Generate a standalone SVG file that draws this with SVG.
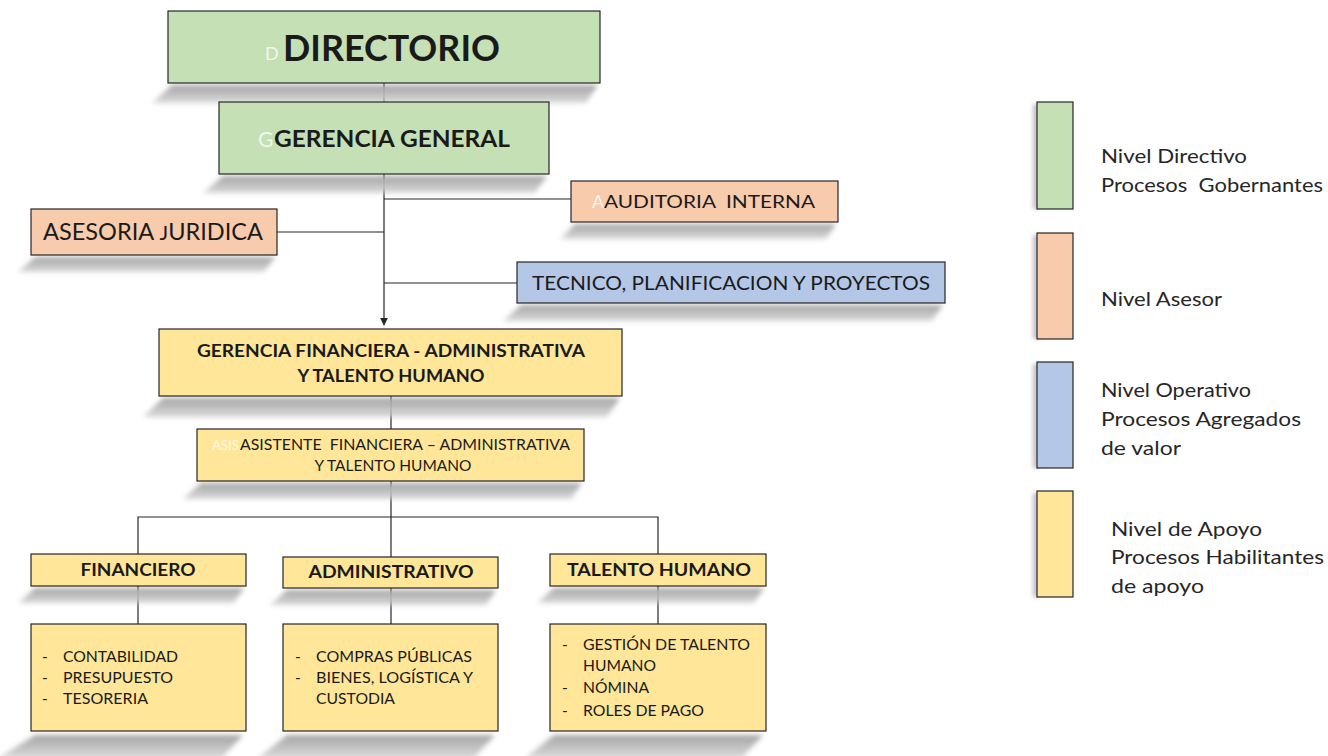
<svg xmlns="http://www.w3.org/2000/svg" width="1328" height="756" viewBox="0 0 1328 756">
<defs>
<filter id="blur" x="-10%" y="-60%" width="120%" height="220%"><feGaussianBlur stdDeviation="2.5"/></filter>
<filter id="blur2" x="-100%" y="-10%" width="300%" height="120%"><feGaussianBlur stdDeviation="2"/></filter>
<linearGradient id="shg" x1="0" y1="0" x2="0" y2="1"><stop offset="0" stop-color="#a3a3a3"/><stop offset="1" stop-color="#cfcfcf" stop-opacity="0.8"/></linearGradient>
<marker id="arr" viewBox="0 0 10 10" refX="9" refY="5" markerWidth="8" markerHeight="8" orient="auto" markerUnits="userSpaceOnUse"><path d="M0,0 L10,5 L0,10 z" fill="#262626"/></marker>
</defs>
<style>
.box{stroke:#262626;stroke-width:1.2}
.g{fill:#c5e0b4}.o{fill:#f8cbad}.b{fill:#b4c7e7}.y{fill:#ffe699}
.sh{fill:url(#shg);filter:url(#blur)}
text{font-family:Lato,"Open Sans","Liberation Sans",sans-serif;fill:#1a1a1a}
.bd{font-weight:bold}
.w{fill:#ffffff;fill-opacity:0.75}
.c{text-anchor:middle}
.ln{stroke:#262626;stroke-width:1.2;fill:none}
.lg{font-size:19px;fill:#262626}
.ls{fill:#bfbfbf;filter:url(#blur2)}
</style>
<rect width="1328" height="756" fill="#ffffff"/>

<g id="connectors">
<path class="ln" d="M384,83 V102"/>
<path class="ln" d="M384,174 V325" marker-end="url(#arr)"/>
<path class="ln" d="M384,199 H571"/>
<path class="ln" d="M277,232 H384"/>
<path class="ln" d="M384,283 H517"/>
<path class="ln" d="M391,396 V429"/>
<path class="ln" d="M391,481 V557"/>
<path class="ln" d="M138,554 V517 H658 V554"/>
<path class="ln" d="M138,586 V624"/>
<path class="ln" d="M391,588 V624"/>
<path class="ln" d="M658,586 V624"/>
</g>

<g id="directorio">
<polygon class="sh" points="172,85 598,85 586,103 152,103"/>
<rect class="box g" x="168" y="11" width="432" height="72"/>
<text x="265" y="60" class="w" font-size="18">D</text>
<text x="283" y="61" class="bd" font-size="37" textLength="217" lengthAdjust="spacingAndGlyphs">DIRECTORIO</text>
</g>

<g id="gerencia-general">
<polygon class="sh" points="223,176 547,176 535,193 203,193"/>
<rect class="box g" x="219" y="102" width="330" height="72"/>
<text x="258" y="147" class="w" font-size="21">G</text>
<text x="274" y="147" class="bd" font-size="22" textLength="236" lengthAdjust="spacingAndGlyphs">GERENCIA GENERAL</text>
</g>

<g id="auditoria-interna">
<polygon class="sh" points="575,224 836,224 826,239 560,239"/>
<rect class="box o" x="571" y="181" width="267" height="41"/>
<text x="592" y="208" class="w" font-size="18">A</text>
<text x="604" y="208" font-size="18" textLength="211" lengthAdjust="spacingAndGlyphs" xml:space="preserve">AUDITORIA  INTERNA</text>
</g>

<g id="asesoria-juridica">
<polygon class="sh" points="35,257 275,257 264,272 18,272"/>
<rect class="box o" x="31" y="209" width="246" height="46"/>
<text x="43" y="240" font-size="23" textLength="220" lengthAdjust="spacingAndGlyphs">ASESORIA <tspan font-size="20">J</tspan>URIDICA</text>
</g>

<g id="tecnico">
<polygon class="sh" points="521,305 943,305 932,321 503,321"/>
<rect class="box b" x="517" y="262" width="428" height="41"/>
<text x="532" y="290" font-size="19" textLength="398" lengthAdjust="spacingAndGlyphs">TECNICO, PLANIFICACION Y PROYECTOS</text>
</g>

<g id="gerencia-financiera">
<polygon class="sh" points="163,398 620,398 607,417 143,417"/>
<rect class="box y" x="159" y="329" width="463" height="67"/>
<text x="391" y="357" class="bd c" font-size="16.5" textLength="388" lengthAdjust="spacingAndGlyphs">GERENCIA FINANCIERA - ADMINISTRATIVA</text>
<text x="391" y="382" class="bd c" font-size="16.5" textLength="187" lengthAdjust="spacingAndGlyphs">Y TALENTO HUMANO</text>
</g>

<g id="asistente">
<polygon class="sh" points="201,483 582,483 571,499 183,499"/>
<rect class="box y" x="197" y="429" width="387" height="52"/>
<text x="212" y="450" class="w" font-size="14" textLength="27" lengthAdjust="spacingAndGlyphs">ASIS</text>
<text x="240" y="450" font-size="14.5" textLength="330" lengthAdjust="spacingAndGlyphs" xml:space="preserve">ASISTENTE  FINANCIERA – ADMINISTRATIVA</text>
<text x="393" y="471" class="c" font-size="14.5" textLength="157" lengthAdjust="spacingAndGlyphs">Y TALENTO HUMANO</text>
</g>

<g id="financiero">
<polygon class="sh" points="35,588 244,588 234,603 18,603"/>
<rect class="box y" x="31" y="554" width="215" height="32"/>
<text x="138" y="576" class="bd c" font-size="16.5" textLength="115" lengthAdjust="spacingAndGlyphs">FINANCIERO</text>
</g>

<g id="administrativo">
<polygon class="sh" points="287,590 496,590 486,605 270,605"/>
<rect class="box y" x="283" y="557" width="215" height="31"/>
<text x="391" y="578" class="bd c" font-size="16.5" textLength="165" lengthAdjust="spacingAndGlyphs">ADMINISTRATIVO</text>
</g>

<g id="talento-humano">
<polygon class="sh" points="554,588 764,588 754,603 537,603"/>
<rect class="box y" x="550" y="554" width="216" height="32"/>
<text x="659" y="576" class="bd c" font-size="16.5" textLength="184" lengthAdjust="spacingAndGlyphs">TALENTO HUMANO</text>
</g>

<g id="financiero-items">
<polygon class="sh" points="35,735 243,735 222,758 -2,758"/>
<rect class="box y" x="31" y="624" width="215" height="107"/>
<g font-size="15.5">
<text x="42" y="662">-</text><text x="63" y="662" textLength="115" lengthAdjust="spacingAndGlyphs">CONTABILIDAD</text>
<text x="42" y="683">-</text><text x="63" y="683" textLength="110" lengthAdjust="spacingAndGlyphs">PRESUPUESTO</text>
<text x="42" y="704">-</text><text x="63" y="704" textLength="85" lengthAdjust="spacingAndGlyphs">TESORERIA</text>
</g>
</g>

<g id="administrativo-items">
<polygon class="sh" points="287,735 495,735 474,758 258,758"/>
<rect class="box y" x="283" y="624" width="215" height="107"/>
<g font-size="15.5">
<text x="295" y="662">-</text><text x="316" y="662" textLength="156" lengthAdjust="spacingAndGlyphs">COMPRAS PÚBLICAS</text>
<text x="295" y="683">-</text><text x="316" y="683" textLength="157" lengthAdjust="spacingAndGlyphs">BIENES, LOGÍSTICA Y</text>
<text x="316" y="704" textLength="79" lengthAdjust="spacingAndGlyphs">CUSTODIA</text>
</g>
</g>

<g id="talento-items">
<polygon class="sh" points="554,735 763,735 742,758 525,758"/>
<rect class="box y" x="550" y="624" width="216" height="107"/>
<g font-size="15.5">
<text x="562" y="650">-</text><text x="583" y="650" textLength="167" lengthAdjust="spacingAndGlyphs">GESTIÓN DE TALENTO</text>
<text x="583" y="671" textLength="73" lengthAdjust="spacingAndGlyphs">HUMANO</text>
<text x="562" y="693">-</text><text x="583" y="693" textLength="66" lengthAdjust="spacingAndGlyphs">NÓMINA</text>
<text x="562" y="716">-</text><text x="583" y="716" textLength="121" lengthAdjust="spacingAndGlyphs">ROLES DE PAGO</text>
</g>
</g>

<g id="legend-directivo">
<rect class="ls" x="1033" y="104" width="6" height="105"/>
<rect class="box g" x="1037" y="102" width="36" height="107"/>
<text x="1101" y="163" class="lg" textLength="146" lengthAdjust="spacingAndGlyphs">Nivel Directivo</text>
<text x="1101" y="192" class="lg" textLength="222" lengthAdjust="spacingAndGlyphs" xml:space="preserve">Procesos  Gobernantes</text>
</g>
<g id="legend-asesor">
<rect class="ls" x="1033" y="235" width="6" height="104"/>
<rect class="box o" x="1037" y="233" width="36" height="106"/>
<text x="1101" y="306" class="lg" textLength="121" lengthAdjust="spacingAndGlyphs">Nivel Asesor</text>
</g>
<g id="legend-operativo">
<rect class="ls" x="1033" y="364" width="6" height="104"/>
<rect class="box b" x="1037" y="362" width="36" height="106"/>
<text x="1101" y="397" class="lg" textLength="150" lengthAdjust="spacingAndGlyphs">Nivel Operativo</text>
<text x="1101" y="426" class="lg" textLength="200" lengthAdjust="spacingAndGlyphs">Procesos Agregados</text>
<text x="1101" y="455" class="lg" textLength="80" lengthAdjust="spacingAndGlyphs">de valor</text>
</g>
<g id="legend-apoyo">
<rect class="ls" x="1033" y="493" width="6" height="104"/>
<rect class="box y" x="1037" y="491" width="36" height="106"/>
<text x="1111" y="536" class="lg" textLength="151" lengthAdjust="spacingAndGlyphs">Nivel de Apoyo</text>
<text x="1111" y="564" class="lg" textLength="213" lengthAdjust="spacingAndGlyphs">Procesos Habilitantes</text>
<text x="1111" y="593" class="lg" textLength="93" lengthAdjust="spacingAndGlyphs">de apoyo</text>
</g>
</svg>
